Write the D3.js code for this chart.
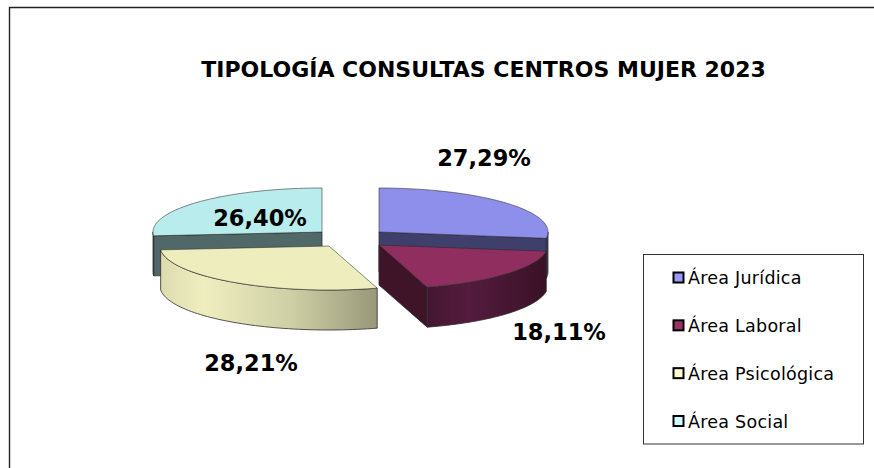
<!DOCTYPE html>
<html><head><meta charset="utf-8">
<script src="https://cdn.jsdelivr.net/npm/d3@7"></script>
<style>html,body{margin:0;padding:0;background:#fff}svg{display:block}text{font-family:"DejaVu Sans",Verdana,sans-serif;fill:#000}</style>
</head><body><div id="c"></div>
<script>
const categories=["Área Jurídica","Área Laboral","Área Psicológica","Área Social"];
const values=[27.29,18.11,28.21,26.40];
const labels=["27,29%","18,11%","28,21%","26,40%"];
const topColors=["#8e8eeb","#8f2e5f","#ededbe","#b9eded"];
const swatchColors=["#9999ff","#993366","#ffffcc","#ccffff"];
const wallColors=["#3f3f6b","#3f1428",null,"#516868"];
const centers=[[379,232],[379,245],[329,246],[322,232]];
const labelPos=[[484,166],[559,340],[251,371],[260,226]];
const sideStops=[
 [["0","#3f3f6b"],["1","#3f3f6b"]],
 [["0","#431730"],["0.35","#541c3e"],["1","#3a1226"]],
 [["0","#dcdcb0"],["0.2","#eeeebf"],["0.6","#cfcfa6"],["1","#98987a"]],
 [["0","#516868"],["1","#516868"]]
];
const rx=169,ry=44,depth=40,W=874,H=468;
const svg=d3.select("#c").append("svg").attr("width",W).attr("height",H);
const defs=svg.append("defs");
const pie=d3.pie().sort(null).value(d=>d)(values);
const line=d3.line();
const px=(c,a,dz=0)=>[c[0]+rx*Math.sin(a),c[1]-ry*Math.cos(a)+dz];
const samples=(a0,a1)=>{const n=60;return d3.range(n+1).map(i=>a0+(a1-a0)*i/n);};
const stroke="#2b2b2b";

svg.append("path").attr("d",line([[9.5,H],[9.5,7.5],[W,7.5]])).attr("fill","none").attr("stroke","#222").attr("stroke-width",1.4);

svg.append("text").attr("x",483.5).attr("y",77).attr("text-anchor","middle")
 .attr("font-size",22).attr("font-weight","bold").text("TIPOLOGÍA CONSULTAS CENTROS MUJER 2023");

const order=[3,0,1,2];
order.forEach(i=>{
 const p=pie[i],c=centers[i],g=svg.append("g");
 const id="side"+i;
 const grad=defs.append("linearGradient").attr("id",id).attr("gradientUnits","userSpaceOnUse");
 const pts=samples(p.startAngle,p.endAngle).map(a=>px(c,a));
 const xs=pts.map(q=>q[0]);
 grad.attr("x1",d3.min(xs)).attr("x2",d3.max(xs)).attr("y1",0).attr("y2",0);
 sideStops[i].forEach(s=>grad.append("stop").attr("offset",s[0]).attr("stop-color",s[1]));
 if(wallColors[i]){
  const a=i===3?p.startAngle:p.endAngle;
  const e=px(c,a);
  g.append("path").attr("d",line([c,e,[e[0],e[1]+depth],[c[0],c[1]+depth]])+"Z")
   .attr("fill",wallColors[i]).attr("stroke",stroke).attr("stroke-width",.8);
 }
 const visible=samples(Math.max(p.startAngle,Math.PI/2),Math.min(p.endAngle,Math.PI*1.5));
 if(p.startAngle<Math.PI*1.5&&p.endAngle>Math.PI/2){
  const up=visible.map(a=>px(c,a)),down=visible.map(a=>px(c,a,depth)).reverse();
  g.append("path").attr("d",line(up.concat(down))+"Z").attr("fill",`url(#${id})`).attr("stroke",stroke).attr("stroke-width",.8);
 }
 g.append("path").attr("d",line([c].concat(pts))+"Z").attr("fill",topColors[i]).attr("stroke",stroke).attr("stroke-width",.7).attr("stroke-opacity",.8);
});

labels.forEach((t,i)=>svg.append("text").attr("x",labelPos[i][0]).attr("y",labelPos[i][1]).attr("text-anchor","middle")
 .attr("font-size",22.5).attr("font-weight","bold").text(t));

svg.append("rect").attr("x",643.5).attr("y",254.5).attr("width",220).attr("height",189.5).attr("fill","#fff").attr("stroke","#333").attr("stroke-width",1);
const ly=d3.scalePoint().domain(categories).range([278,421.5]);
categories.forEach((n,i)=>{
 const y=ly(n);
 svg.append("rect").attr("x",673.5).attr("y",y-5.5).attr("width",10).attr("height",10).attr("fill",swatchColors[i]).attr("stroke","#000").attr("stroke-width",2);
 svg.append("text").attr("x",688).attr("y",y+6).attr("font-size",17.5).attr("letter-spacing",.25).text(n);
});
</script></body></html>
